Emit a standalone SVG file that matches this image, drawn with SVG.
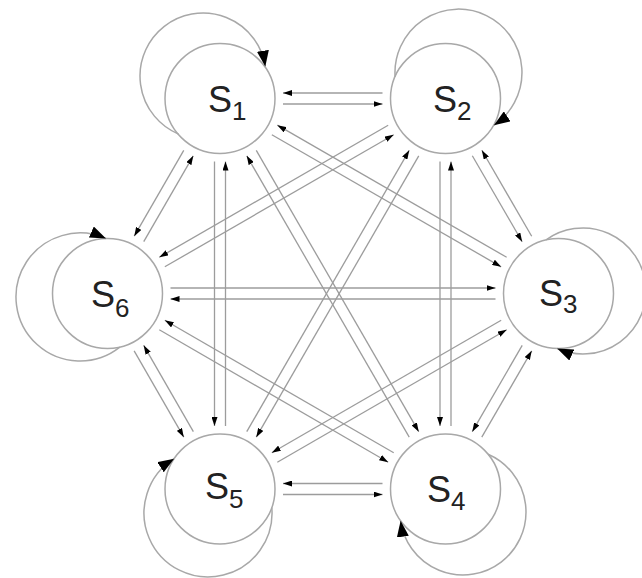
<svg xmlns="http://www.w3.org/2000/svg" width="642" height="578" viewBox="0 0 642 578">
<style>
.node{fill:#fff;stroke:#a8a8a8;stroke-width:1.5}
.loop{fill:none;stroke:#a8a8a8;stroke-width:1.5;marker-end:url(#loopArrow)}
.edge{fill:none;stroke:#9c9c9c;stroke-width:1.3;marker-end:url(#edgeArrow)}
.lbl{font-family:"Liberation Sans",Arial,sans-serif;font-size:36px;fill:#222}
.sub{font-size:26px}
</style>
<defs>
<marker id="edgeArrow" markerUnits="userSpaceOnUse" markerWidth="9" markerHeight="6" viewBox="0 0 9 6" refX="9" refY="3" orient="auto"><path d="M0,0 L9,3 L0,6 z" fill="#000"/></marker>
<marker id="loopArrow" markerUnits="userSpaceOnUse" markerWidth="16" markerHeight="12" viewBox="0 0 16 12" refX="16" refY="6" orient="auto"><path d="M0,0 L16,6 L0,12 z" fill="#000"/></marker>
</defs>
<rect width="642" height="578" fill="#fff"/>
<g id="connectors">
<line class="edge" x1="283" y1="104" x2="382.5" y2="104"/>
<line class="edge" x1="382.5" y1="93" x2="283" y2="93"/>
<line class="edge" x1="271.85" y1="134.72" x2="501.15" y2="266.82"/>
<line class="edge" x1="506.65" y1="257.28" x2="277.35" y2="125.18"/>
<line class="edge" x1="256.27" y1="150.31" x2="418.75" y2="431.69"/>
<line class="edge" x1="409.23" y1="437.19" x2="246.75" y2="155.81"/>
<line class="edge" x1="214.5" y1="161.5" x2="214.5" y2="426"/>
<line class="edge" x1="225.5" y1="426" x2="225.5" y2="161.5"/>
<line class="edge" x1="183.75" y1="150.33" x2="134.23" y2="236.17"/>
<line class="edge" x1="143.75" y1="241.67" x2="193.27" y2="155.83"/>
<line class="edge" x1="472.32" y1="155.76" x2="522.16" y2="241.76"/>
<line class="edge" x1="531.68" y1="236.24" x2="481.84" y2="150.24"/>
<line class="edge" x1="440" y1="161.5" x2="440" y2="426"/>
<line class="edge" x1="451" y1="426" x2="451" y2="161.5"/>
<line class="edge" x1="418.75" y1="155.81" x2="256.27" y2="437.19"/>
<line class="edge" x1="246.75" y1="431.69" x2="409.23" y2="150.31"/>
<line class="edge" x1="388.18" y1="125.22" x2="159.32" y2="257.26"/>
<line class="edge" x1="164.82" y1="266.78" x2="393.68" y2="134.74"/>
<line class="edge" x1="522.21" y1="345.3" x2="472.27" y2="431.7"/>
<line class="edge" x1="481.79" y1="437.2" x2="531.73" y2="350.8"/>
<line class="edge" x1="501.19" y1="320.25" x2="271.81" y2="452.73"/>
<line class="edge" x1="277.31" y1="462.25" x2="506.69" y2="329.77"/>
<line class="edge" x1="495.5" y1="299" x2="170.5" y2="299"/>
<line class="edge" x1="170.5" y1="288" x2="495.5" y2="288"/>
<line class="edge" x1="382.5" y1="483.5" x2="283" y2="483.5"/>
<line class="edge" x1="283" y1="494.5" x2="382.5" y2="494.5"/>
<line class="edge" x1="393.72" y1="452.7" x2="164.78" y2="320.28"/>
<line class="edge" x1="159.28" y1="329.8" x2="388.22" y2="462.22"/>
<line class="edge" x1="193.35" y1="431.66" x2="143.69" y2="345.36"/>
<line class="edge" x1="134.15" y1="350.84" x2="183.81" y2="437.14"/>
</g>
<g id="S1">
<circle class="node" cx="220" cy="98.5" r="55"/>
<path class="loop" d="M178.6,134.1 A63,63 0 1 1 265.3,66.6"/>
<text class="lbl" x="208" y="112">S<tspan class="sub" dy="8">1</tspan></text>
</g>
<g id="S2">
<circle class="node" cx="445.5" cy="98.5" r="55"/>
<path class="loop" d="M395.1,76.8 A63.5,63.5 0 1 1 493.9,125.3"/>
<text class="lbl" x="433" y="112">S<tspan class="sub" dy="8">2</tspan></text>
</g>
<g id="S3">
<circle class="node" cx="558.5" cy="293.5" r="55"/>
<path class="loop" d="M546.1,239.9 A63,63 0 1 1 557.2,348.5"/>
<text class="lbl" x="539" y="306">S<tspan class="sub" dy="7">3</tspan></text>
</g>
<g id="S4">
<circle class="node" cx="445.5" cy="489" r="55"/>
<path class="loop" d="M488.1,454.2 A63,63 0 1 1 400.6,520.8"/>
<text class="lbl" x="427" y="502">S<tspan class="sub" dy="8">4</tspan></text>
</g>
<g id="S5">
<circle class="node" cx="220" cy="489" r="55"/>
<path class="loop" d="M271.8,507.6 A64,64 0 1 1 174.1,458.7"/>
<text class="lbl" x="205" y="499">S<tspan class="sub" dy="9">5</tspan></text>
</g>
<g id="S6">
<circle class="node" cx="107.5" cy="293.5" r="55"/>
<path class="loop" d="M119.8,347.1 A64,64 0 1 1 106,238.5"/>
<text class="lbl" x="91" y="307">S<tspan class="sub" dy="10">6</tspan></text>
</g>
</svg>
